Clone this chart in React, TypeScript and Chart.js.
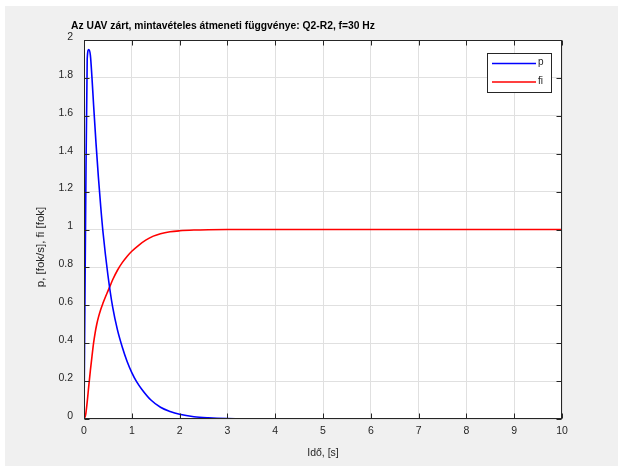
import React, { useEffect, useRef } from "react";
import { Chart, registerables } from "chart.js";

Chart.register(...registerables);

const TITLE = "Az UAV zárt, mintavételes átmeneti függvénye: Q2-R2, f=30 Hz";
const X_LABEL = "Idő, [s]";
const Y_LABEL = "p, [fok/s], fi [fok]";
const LEGEND_LABELS = ["p", "fi"];

const pTime = [0, 0.033, 0.067, 0.1, 0.133, 0.167, 0.2, 0.25, 0.3, 0.35, 0.4, 0.5, 0.6, 0.7, 0.8, 0.9, 1.0, 1.1, 1.2, 1.4, 1.6, 1.8, 2.0, 2.3, 2.6, 3.0, 3.5, 4, 10];
const pValues = [0, 1.05, 1.9, 1.95, 1.92, 1.8, 1.66, 1.46, 1.28, 1.12, 0.98, 0.76, 0.59, 0.47, 0.38, 0.305, 0.245, 0.197, 0.16, 0.1, 0.062, 0.04, 0.025, 0.012, 0.006, 0.002, 0.0005, 0, 0];

const fiTime = [0, 0.033, 0.067, 0.1, 0.133, 0.167, 0.2, 0.233, 0.267, 0.3, 0.35, 0.4, 0.45, 0.5, 0.55, 0.6, 0.7, 0.8, 0.9, 1.0, 1.15, 1.3, 1.45, 1.6, 1.8, 2.0, 2.3, 2.6, 3.0, 10];
const fiValues = [0, 0.02, 0.09, 0.175, 0.255, 0.33, 0.4, 0.455, 0.5, 0.535, 0.578, 0.613, 0.645, 0.675, 0.705, 0.735, 0.785, 0.825, 0.858, 0.885, 0.918, 0.945, 0.965, 0.978, 0.988, 0.993, 0.997, 0.999, 1, 1];

const xTicks = [0, 1, 2, 3, 4, 5, 6, 7, 8, 9, 10];
const yTicks = [0, 0.2, 0.4, 0.6, 0.8, 1, 1.2, 1.4, 1.6, 1.8, 2];

const FONT = "'Liberation Sans', Arial, Helvetica, sans-serif";
const AX = "#262626";

const decorPlugin = {
  id: "decor",
  beforeDraw(chart: any) {
    const { ctx, chartArea: a } = chart;
    ctx.save();
    ctx.fillStyle = "#ffffff";
    ctx.fillRect(a.left, a.top, a.right - a.left, a.bottom - a.top);
    ctx.restore();
  },
  afterDraw(chart: any) {
    const { ctx, chartArea: a, scales } = chart;
    ctx.save();
    ctx.strokeStyle = AX;
    ctx.lineWidth = 1;
    const L = Math.round(a.left) + 0.5;
    const R = Math.round(a.right) - 0.5;
    const T = Math.round(a.top) + 0.5;
    const B = Math.round(a.bottom) - 0.5;
    ctx.strokeRect(L, T, R - L, B - T);
    const tl = 5;
    ctx.beginPath();
    xTicks.forEach((v) => {
      const x = Math.round(scales.x.getPixelForValue(v)) + 0.5;
      ctx.moveTo(x, B);
      ctx.lineTo(x, B - tl);
      ctx.moveTo(x, T);
      ctx.lineTo(x, T + tl);
    });
    yTicks.forEach((v) => {
      const y = Math.round(scales.y.getPixelForValue(v)) + 0.5;
      ctx.moveTo(L, y);
      ctx.lineTo(L + tl, y);
      ctx.moveTo(R, y);
      ctx.lineTo(R - tl, y);
    });
    ctx.stroke();

    // title
    ctx.fillStyle = "#000000";
    ctx.font = `bold 10.3px ${FONT}`;
    ctx.textAlign = "left";
    ctx.textBaseline = "middle";
    ctx.fillText(TITLE, 71, 26);

    // axis titles
    ctx.fillStyle = AX;
    ctx.font = `10.5px ${FONT}`;
    ctx.textAlign = "center";
    ctx.fillText(X_LABEL, (a.left + a.right) / 2, 453);
    ctx.save();
    ctx.translate(41, 247);
    ctx.rotate(-Math.PI / 2);
    ctx.font = `11.5px ${FONT}`;
    ctx.fillText(Y_LABEL, 0, 0);
    ctx.restore();

    // legend
    const lx = 487.5, ly = 53.5, lw = 64, lh = 39;
    ctx.fillStyle = "#ffffff";
    ctx.fillRect(lx, ly, lw, lh);
    ctx.strokeStyle = AX;
    ctx.lineWidth = 1;
    ctx.strokeRect(lx, ly, lw, lh);
    const colors = ["#0000ff", "#ff0000"];
    const rows = [63.5, 82];
    ctx.font = `10px ${FONT}`;
    ctx.textAlign = "left";
    LEGEND_LABELS.forEach((lab, i) => {
      ctx.strokeStyle = colors[i];
      ctx.lineWidth = 1.5;
      ctx.beginPath();
      ctx.moveTo(492, rows[i]);
      ctx.lineTo(536, rows[i]);
      ctx.stroke();
      ctx.fillStyle = AX;
      ctx.fillText(lab, 538, rows[i] - 1);
    });
    ctx.restore();
  },
};

export default function App() {
  const ref = useRef<HTMLCanvasElement | null>(null);
  useEffect(() => {
    if (!ref.current) return;
    const chart = new Chart(ref.current, {
      type: "line",
      data: {
        datasets: [
          {
            label: LEGEND_LABELS[0],
            data: pTime.map((t, i) => ({ x: t, y: pValues[i] })),
            borderColor: "#0000ff",
            borderWidth: 1.6,
            pointRadius: 0,
            cubicInterpolationMode: "monotone",
            fill: false,
          },
          {
            label: LEGEND_LABELS[1],
            data: fiTime.map((t, i) => ({ x: t, y: fiValues[i] })),
            borderColor: "#ff0000",
            borderWidth: 1.6,
            pointRadius: 0,
            cubicInterpolationMode: "monotone",
            fill: false,
          },
        ],
      },
      options: {
        animation: false,
        responsive: false,
        maintainAspectRatio: false,
        layout: { padding: { top: 40, right: 56, left: 0, bottom: 0 } },
        plugins: {
          legend: { display: false },
          title: { display: false },
          tooltip: { enabled: false },
        },
        scales: {
          x: {
            type: "linear",
            min: 0,
            max: 10,
            afterBuildTicks: (s: any) => {
              s.ticks = xTicks.map((v) => ({ value: v }));
            },
            afterFit: (s: any) => {
              s.height = 47;
            },
            ticks: {
              color: AX,
              font: { family: FONT, size: 10.5 },
              padding: 6,
              maxRotation: 0,
              autoSkip: false,
            },
            grid: { color: "#e0e0e0", drawTicks: false, lineWidth: 1 },
            border: { display: false },
          },
          y: {
            type: "linear",
            min: 0,
            max: 2,
            afterBuildTicks: (s: any) => {
              s.ticks = yTicks.map((v) => ({ value: v }));
            },
            afterFit: (s: any) => {
              s.width = 84;
            },
            ticks: {
              color: AX,
              font: { family: FONT, size: 10.5 },
              padding: 11,
              labelOffset: -3,
              autoSkip: false,
              callback: (v: any) => String(Math.round(Number(v) * 10) / 10),
            },
            grid: { color: "#e0e0e0", drawTicks: false, lineWidth: 1 },
            border: { display: false },
          },
        },
      },
      plugins: [decorPlugin],
    });
    return () => chart.destroy();
  }, []);

  return (
    <div style={{ position: "absolute", left: 0, top: 0, width: 618, height: 466, background: "#ffffff", overflow: "hidden" }}>
      <div style={{ position: "absolute", left: 5, top: 6, right: 0, bottom: 0, background: "#f0f0f0" }} />
      <canvas ref={ref} width={618} height={466} style={{ position: "absolute", left: 0, top: 0, width: 618, height: 466 }} />
    </div>
  );
}
